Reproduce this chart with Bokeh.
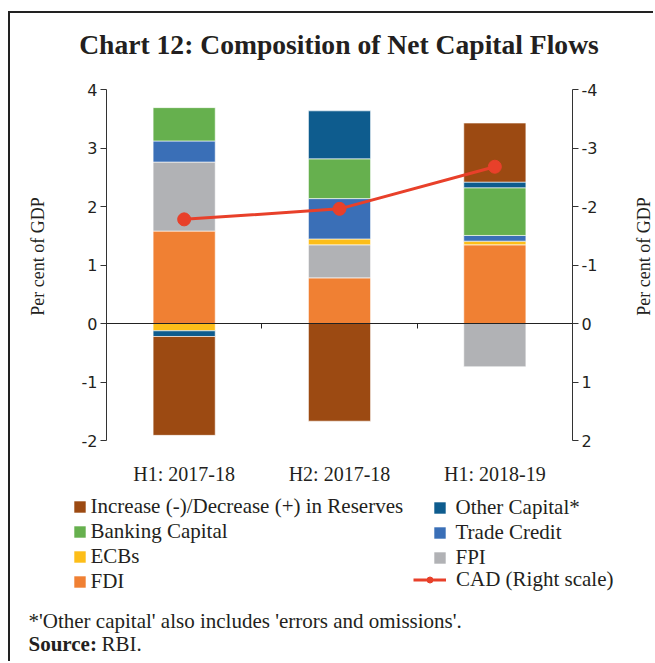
import math
import numpy as np
from bokeh.plotting import figure
from bokeh.models import Range1d, LinearAxis, FixedTicker, Legend, LegendItem, Label
from bokeh.embed import file_html
from bokeh.resources import INLINE

# ---------------- data ----------------
categories = ["H1: 2017-18", "H2: 2017-18", "H1: 2018-19"]
fdi = [1.58, 0.78, 1.345]
fpi = [1.18, 0.565, -0.74]
ecbs = [-0.125, 0.10, 0.063]
trade_credit = [0.36, 0.69, 0.097]
banking_capital = [0.57, 0.68, 0.815]
other_capital = [-0.097, 0.82, 0.097]
reserves = [-1.69, -1.67, 1.01]
cad = [-1.78, -1.96, -2.68]
left_ticks = [-2, -1, 0, 1, 2, 3, 4]
right_ticks = [-4, -3, -2, -1, 0, 1, 2]

series_names = ["FDI", "FPI", "ECBs", "Trade Credit", "Banking Capital",
                "Other Capital*", "Increase (-)/Decrease (+) in Reserves"]
series_values = [fdi, fpi, ecbs, trade_credit, banking_capital, other_capital, reserves]
series_colors = ["#F08033", "#B1B2B5", "#FDBE19", "#3A6FB7", "#66B04E", "#0E5C8E", "#9C4A12"]
cad_color = "#E8402A"

SERIF = "Liberation Serif"
SANS = "DejaVu Sans"
TXT = "#231f20"
AX = "#333333"

# ---------------- layout (page pixels) ----------------
W, H = 645, 650                 # canvas size
CANVAS_L, CANVAS_T = 10, 13     # canvas origin on the page
PLOT_L, PLOT_R, PLOT_T, PLOT_B = 106, 572, 89, 440   # axes box on the page

x_min, x_max = -0.5, len(categories) - 0.5
y_min, y_max = left_ticks[0], left_ticks[-1]
sx = (PLOT_R - PLOT_L) / (x_max - x_min)
sy = (PLOT_B - PLOT_T) / (y_max - y_min)
x_lo = x_min - (PLOT_L - CANVAS_L) / sx
x_hi = x_max + (CANVAS_L + W - PLOT_R) / sx
y_hi = y_max + (PLOT_T - CANVAS_T) / sy
y_lo = y_min - (CANVAS_T + H - PLOT_B) / sy


def sxp(px):   # page x -> screen x from canvas left
    return px - CANVAS_L


def syp(py):   # page y -> screen y from canvas bottom
    return CANVAS_T + H - py


p = figure(width=W, height=H,
           x_range=Range1d(x_lo, x_hi), y_range=Range1d(y_lo, y_hi),
           x_axis_location=None, y_axis_location=None, title_location=None,
           output_backend="svg", toolbar_location=None, min_border=0,
           styles={"border-left": "2px solid #222", "border-top": "2px solid #222",
                   "margin-left": "8px", "margin-top": "11px"})
p.extra_y_ranges = {"cad": Range1d(start=-y_lo, end=-y_hi)}
p.xgrid.visible = False
p.ygrid.visible = False
p.outline_line_color = None
p.background_fill_color = "white"
p.border_fill_color = "white"

xs = np.arange(len(categories))

# stacked bars
pos = np.zeros(len(categories))
neg = np.zeros(len(categories))
rend = {}
for name, vals, col in zip(series_names, series_values, series_colors):
    v = np.array(vals, dtype=float)
    bottom = np.where(v >= 0, pos, neg)
    top = bottom + v
    pos = np.where(v >= 0, top, pos)
    neg = np.where(v < 0, top, neg)
    rend[name] = p.vbar(x=xs, bottom=bottom, top=top, width=0.4,
                        fill_color=col, line_color="white", line_width=0.6)

# CAD line (right scale)
r_line = p.line(xs, cad, y_range_name="cad", line_color=cad_color, line_width=3)
r_dot = p.scatter(xs, cad, y_range_name="cad", size=13,
                  fill_color=cad_color, line_color=cad_color)

axis_common = dict(major_tick_out=6, major_tick_in=0, minor_tick_out=0, minor_tick_in=0,
                   axis_line_color=AX, major_tick_line_color=AX,
                   major_label_text_font=SANS, major_label_text_font_size="16px",
                   major_label_text_color=TXT, major_label_standoff=3)

# left axis
la = LinearAxis(fixed_location=x_min, bounds=(y_min, y_max),
                ticker=FixedTicker(ticks=left_ticks),
                major_label_overrides={t: str(t) for t in left_ticks}, **axis_common)
p.add_layout(la, "left")

# right axis (inverted CAD scale)
ra = LinearAxis(y_range_name="cad", fixed_location=x_max,
                bounds=(right_ticks[0], right_ticks[-1]),
                ticker=FixedTicker(ticks=right_ticks),
                major_label_overrides={t: str(t) for t in right_ticks}, **axis_common)
p.add_layout(ra, "right")

# zero line with separator ticks
mids = ((xs[:-1] + xs[1:]) / 2.0).tolist()
za = LinearAxis(fixed_location=0, bounds=(x_min, x_max), ticker=FixedTicker(ticks=mids),
                major_label_text_color=None, major_tick_out=5, major_tick_in=0,
                minor_tick_out=0, minor_tick_in=0, axis_line_color="#222",
                major_tick_line_color="#222", axis_line_width=1.2)
p.add_layout(za, "below")

# category labels under the axes box
ca = LinearAxis(fixed_location=y_min, bounds=(x_min, x_max),
                ticker=FixedTicker(ticks=[int(i) for i in xs]),
                major_label_overrides={int(i): c for i, c in zip(xs, categories)},
                axis_line_color=None, major_tick_line_color=None, minor_tick_line_color=None,
                major_tick_out=0, major_tick_in=0, major_label_standoff=22,
                major_label_text_font=SERIF, major_label_text_font_size="20px",
                major_label_text_color=TXT)
p.add_layout(ca, "below")

# axis titles
for px in (37, 643):
    p.add_layout(Label(x=sxp(px), y=syp(256), x_units="screen", y_units="screen",
                       text="Per cent of GDP", angle=math.pi / 2,
                       text_align="center", text_baseline="middle",
                       text_font=SERIF, text_font_size="18px", text_color=TXT))

# legends
common = dict(orientation="vertical", glyph_width=15, glyph_height=15, spacing=0,
              label_height=20, padding=0, margin=0, border_line_color=None,
              background_fill_alpha=0, label_text_font=SERIF,
              label_text_font_size="21px", label_text_color=TXT)
legA = Legend(items=[LegendItem(label=n, renderers=[rend[n]]) for n in
                     ["Increase (-)/Decrease (+) in Reserves", "Banking Capital", "ECBs", "FDI"]],
              location=(sxp(71.5), syp(593.5)), label_standoff=4, **common)
legB = Legend(items=[LegendItem(label=n, renderers=[rend[n]]) for n in
                     ["Other Capital*", "Trade Credit", "FPI"]],
              location=(sxp(431.5), syp(570)), label_standoff=9, **common)
commonC = dict(common)
commonC["glyph_width"] = 33
legC = Legend(items=[LegendItem(label="CAD (Right scale)", renderers=[r_line, r_dot])],
              location=(sxp(413), syp(592)), label_standoff=10, **commonC)
for lg in (legA, legB, legC):
    p.add_layout(lg)

# title and notes
p.add_layout(Label(x=sxp(338.5), y=syp(44), x_units="screen", y_units="screen",
                   text="Chart 12: Composition of Net Capital Flows",
                   text_align="center", text_baseline="middle",
                   text_font=SERIF, text_font_size="27.6px", text_font_style="bold",
                   text_color=TXT))
p.add_layout(Label(x=sxp(28), y=syp(620), x_units="screen", y_units="screen",
                   text="*'Other capital' also includes 'errors and omissions'.",
                   text_align="left", text_baseline="middle",
                   text_font=SERIF, text_font_size="21px", text_color=TXT))
p.add_layout(Label(x=sxp(28), y=syp(643), x_units="screen", y_units="screen",
                   text="Source:", text_align="left", text_baseline="middle",
                   text_font=SERIF, text_font_size="21px", text_font_style="bold",
                   text_color=TXT))
p.add_layout(Label(x=sxp(101), y=syp(643), x_units="screen", y_units="screen",
                   text="RBI.", text_align="left", text_baseline="middle",
                   text_font=SERIF, text_font_size="21px", text_color=TXT))

open("out.html", "w").write(file_html(p, INLINE))
